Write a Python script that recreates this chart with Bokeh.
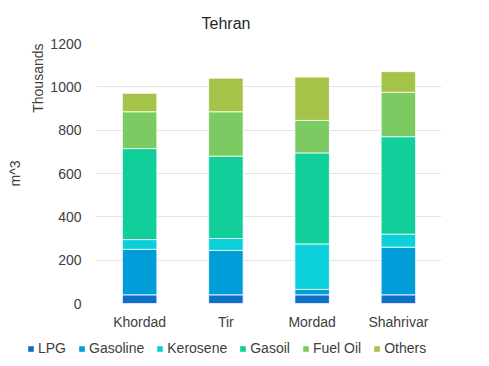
from bokeh.plotting import figure
from bokeh.layouts import column
from bokeh.models import Legend, LegendItem, Title, Range1d, FactorRange
from bokeh.embed import file_html
from bokeh.resources import INLINE

months = ["Khordad", "Tir", "Mordad", "Shahrivar"]
series = ["LPG", "Gasoline", "Kerosene", "Gasoil", "Fuel Oil", "Others"]
lpg = [40, 40, 40, 40]
gasoline = [210, 205, 25, 220]
kerosene = [45, 55, 210, 60]
gasoil = [420, 380, 420, 450]
fuel_oil = [170, 205, 150, 205]
others = [85, 155, 200, 95]
colors = ["#0F6FC6", "#009DD9", "#0BD0D9", "#10CF9B", "#7CCA62", "#A5C249"]

FONT = "Liberation Sans"
TXT = "#404040"

data = {"month": months, "LPG": lpg, "Gasoline": gasoline, "Kerosene": kerosene,
        "Gasoil": gasoil, "Fuel Oil": fuel_oil, "Others": others}

p = figure(x_range=FactorRange(*months, range_padding=0), y_range=Range1d(0, 1200),
           width=473, height=335, output_backend="svg", toolbar_location=None,
           min_border_left=87, min_border_right=32, min_border_top=43, min_border_bottom=32)
p.frame_align = False
p.title = None
p.add_layout(Title(text="Tehran", align="left", offset=105, text_font=FONT,
                   text_font_size="16px", text_font_style="normal", text_color="#262626",
                   standoff=24), "above")

renderers = p.vbar_stack(series, x="month", width=0.4, source=data, color=colors,
                         line_color="white", line_width=0.8)

p.outline_line_color = None
p.xgrid.grid_line_color = None
p.ygrid.grid_line_color = "#e3e3e3"
p.ygrid.grid_line_width = 1

p.xaxis.axis_line_color = None
p.xaxis.major_tick_line_color = None
p.xaxis.minor_tick_line_color = None
p.xaxis.major_tick_out = 0
p.xaxis.major_label_text_font = FONT
p.xaxis.major_label_text_font_size = "14px"
p.xaxis.major_label_text_color = TXT
p.xaxis.major_label_standoff = 10

p.yaxis.axis_line_color = None
p.yaxis.major_tick_line_color = None
p.yaxis.minor_tick_line_color = None
p.yaxis.major_tick_out = 0
p.yaxis.minor_tick_out = 0
p.yaxis.ticker = [0, 200, 400, 600, 800, 1000, 1200]
p.yaxis.major_label_text_font = FONT
p.yaxis.major_label_text_font_size = "14px"
p.yaxis.major_label_text_color = TXT
p.yaxis.major_label_standoff = 15

p.add_layout(Title(text="Thousands", align="right", offset=0, text_font=FONT,
                   text_font_size="14px", text_font_style="normal", text_color=TXT,
                   standoff=3), "left")
p.add_layout(Title(text="m^3", align="center", text_font=FONT,
                   text_font_size="14px", text_font_style="normal", text_color=TXT,
                   standoff=8), "left")

# legend strip below the chart
lg = figure(width=473, height=23, output_backend="svg", toolbar_location=None,
            x_range=Range1d(0, 1), y_range=Range1d(0, 1), x_axis_type=None, y_axis_type=None,
            min_border_left=0, min_border_right=0, min_border_top=0, min_border_bottom=0)
lg.frame_align = False
lg.outline_line_color = None
lg.xgrid.grid_line_color = None
lg.ygrid.grid_line_color = None
dummies = [lg.vbar(x=[5], top=[5], width=0.1, fill_color=c, line_color=None) for c in colors]
legend = Legend(items=[LegendItem(label=s, renderers=[r]) for s, r in zip(series, dummies)],
                orientation="horizontal", location=(27, 2), glyph_width=7, glyph_height=7,
                label_standoff=4, spacing=12, padding=0, margin=0,
                label_text_font=FONT, label_text_font_size="14px", label_text_color=TXT,
                border_line_color=None, background_fill_alpha=0)
lg.add_layout(legend, "center")

layout = column(p, lg, spacing=0)
open("out.html", "w").write(file_html(layout, INLINE))
